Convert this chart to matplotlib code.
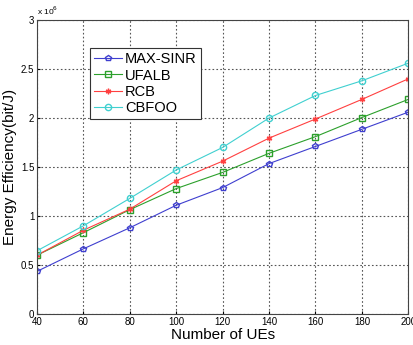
import numpy as np
import matplotlib.pyplot as plt

plt.rcParams['font.family'] = ['Liberation Sans', 'DejaVu Sans']

# liczba UE i efektywnosc energetyczna (w jednostkach 1e6 bit/J)
num_ues = [40, 60, 80, 100, 120, 140, 160, 180, 200]
max_sinr = [0.435, 0.665, 0.88, 1.11, 1.29, 1.535, 1.71, 1.885, 2.06]
ufalb = [0.60, 0.83, 1.065, 1.28, 1.445, 1.64, 1.81, 2.005, 2.19]
rcb = [0.60, 0.855, 1.07, 1.36, 1.56, 1.795, 1.99, 2.19, 2.40]
cbfoo = [0.645, 0.90, 1.18, 1.47, 1.70, 2.00, 2.23, 2.38, 2.56]

x_ticks = [40, 60, 80, 100, 120, 140, 160, 180, 200]
y_ticks = [0, 0.5, 1, 1.5, 2, 2.5, 3]
y_labels = ['0', '0.5', '1', '1.5', '2', '2.5', '3']

fig = plt.figure(figsize=(4.13, 3.45), dpi=100)
ax = fig.add_axes([0.0896, 0.0899, 0.899, 0.852])

asterisk = (6, 2, 0)
ax.plot(num_ues, max_sinr, color='#3f3fcf', marker='p', markersize=4,
        markerfacecolor='none', linewidth=0.8, label='MAX-SINR')
ax.plot(num_ues, ufalb, color='#2ca02c', marker='s', markersize=4.5,
        markerfacecolor='none', linewidth=0.8, label='UFALB')
ax.plot(num_ues, rcb, color='#ff4040', marker=asterisk, markersize=4,
        linewidth=0.8, label='RCB')
ax.plot(num_ues, cbfoo, color='#40d0d0', marker='o', markersize=4.5,
        markerfacecolor='none', linewidth=0.8, label='CBFOO')

ax.set_xlim(40, 200)
ax.set_ylim(0, 3)
ax.set_xticks(x_ticks)
ax.set_xticklabels([str(t) for t in x_ticks])
ax.set_yticks(y_ticks)
ax.set_yticklabels(y_labels)
ax.tick_params(labelsize=7, length=2, direction='in', pad=2)
ax.grid(True, linestyle=(0, (1.5, 2)), color='#555555', linewidth=0.8)
for s in ax.spines.values():
    s.set_color('#444444')

ax.set_xlabel('Number of UEs', fontsize=11, labelpad=1)
ax.set_ylabel('Energy Efficiency(bit/J)', fontsize=11, labelpad=3)
ax.text(0.0, 1.012, r'x 10$^6$', transform=ax.transAxes, fontsize=6,
        ha='left', va='bottom')

leg = ax.legend(loc='upper left', bbox_to_anchor=(0.143, 0.905), fontsize=10.5,
                fancybox=False, framealpha=1, edgecolor='#333333',
                handlelength=1.9, handletextpad=0.2, borderpad=0.3,
                labelspacing=0.15, borderaxespad=0)
leg.get_frame().set_linewidth(0.8)

fig.savefig('out.png', dpi=100)
